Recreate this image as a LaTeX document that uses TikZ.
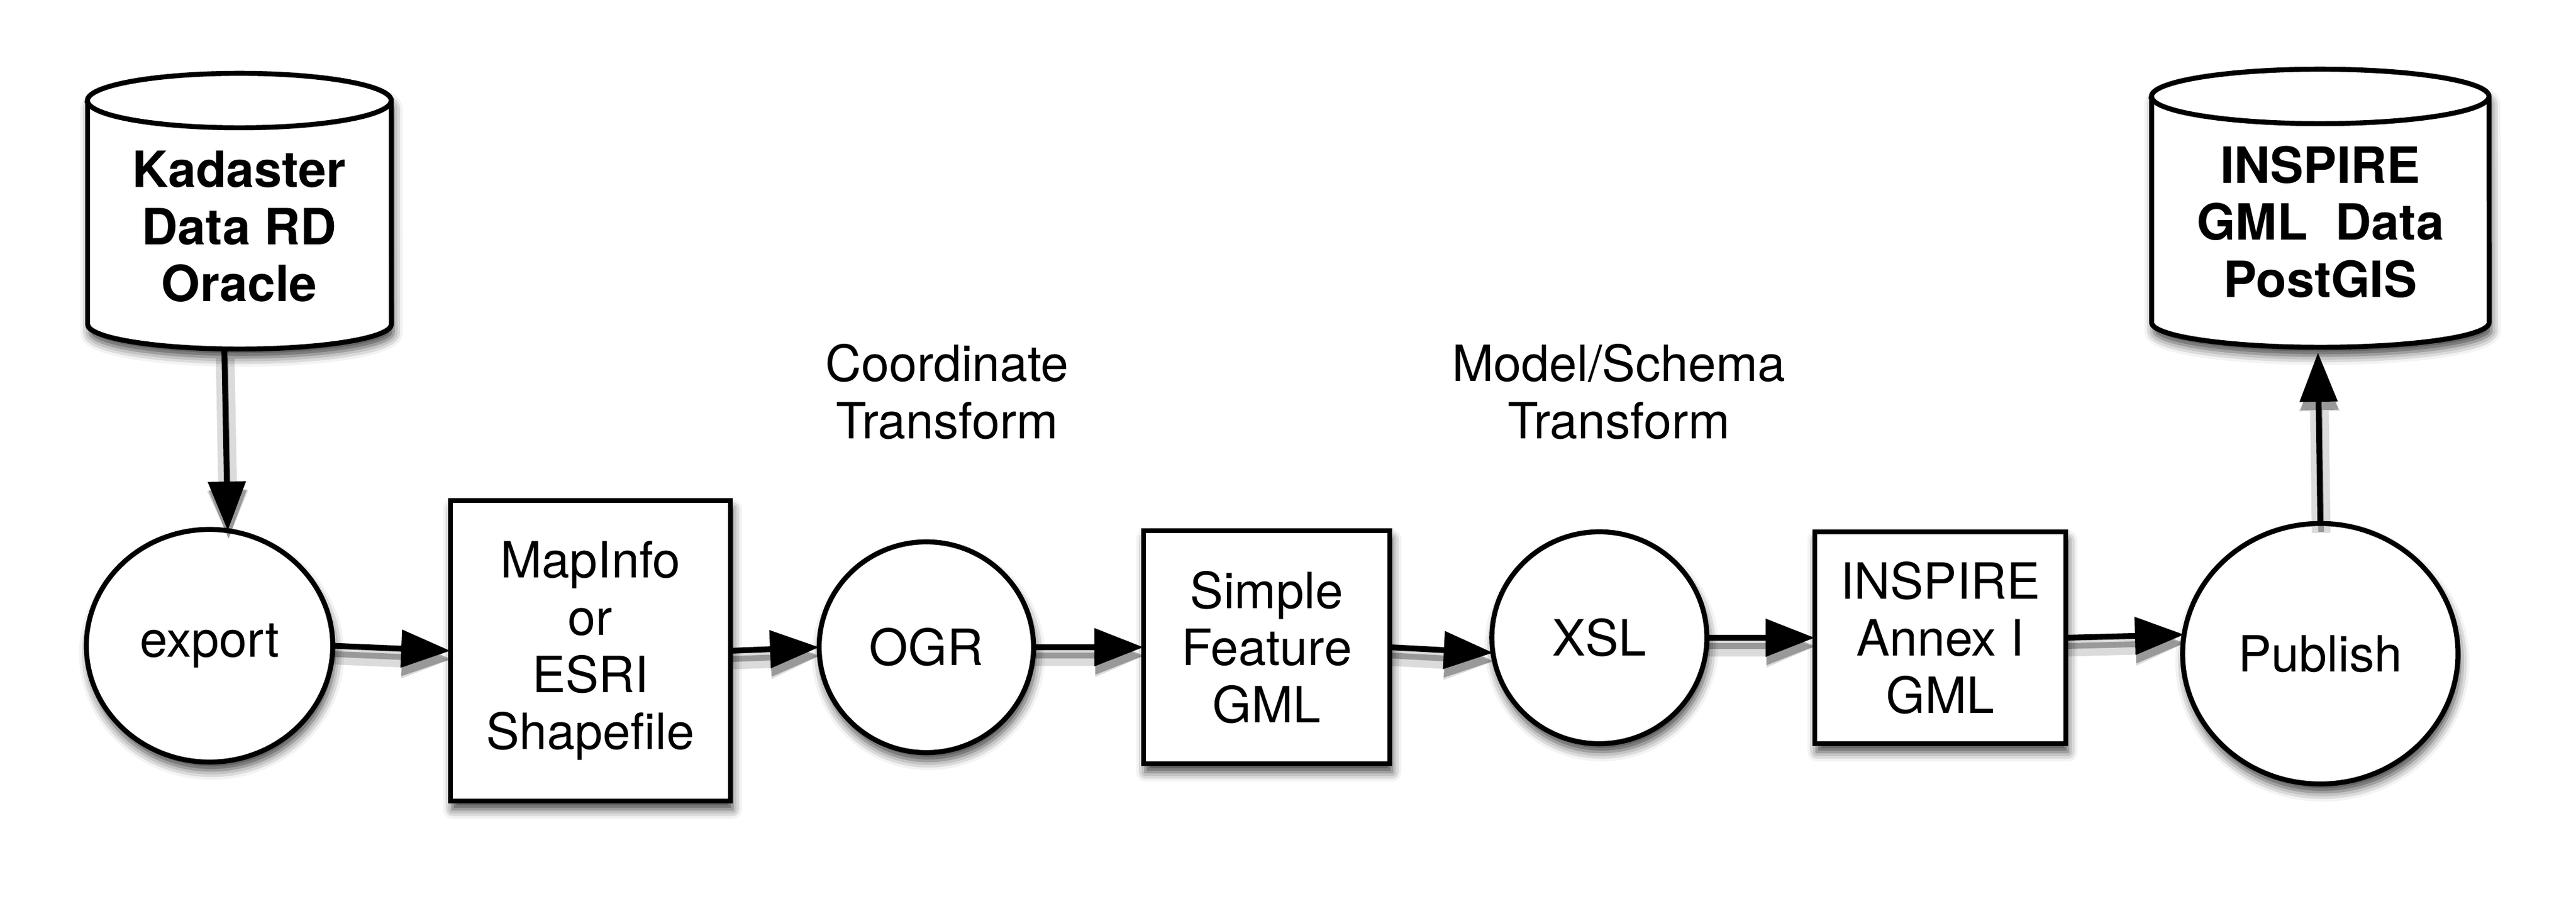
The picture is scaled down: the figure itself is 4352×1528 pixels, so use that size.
\documentclass[tikz,border=0pt]{standalone}
\usepackage{fontspec}
\setmainfont{TeX Gyre Heros}
\usetikzlibrary{shapes.geometric,arrows.meta,shadows.blur}
\begin{document}
\begin{tikzpicture}[x=0.01cm,y=0.01cm,
  every node/.style={font=\fontsize{24}{27.5}\selectfont, align=center, inner sep=0pt, outer sep=0pt},
  shp/.style={draw, line width=2.4pt, fill=white,
    blur shadow={shadow xshift=1pt, shadow yshift=-4pt, shadow blur radius=4.5pt, shadow opacity=75}},
  proc/.style={shp, ellipse},
  dat/.style={shp, rectangle},
  dbtext/.style={font=\bfseries\fontsize{24}{27.5}\selectfont},
  flow/.style={line width=2.8pt, -{Triangle[length=0.83cm,width=0.62cm,fill=black]}}
]
\useasboundingbox (0,0) rectangle (4352,1528);

% database cylinders
\path[shp] (148,1358) -- (148,980)
  arc[start angle=180, end angle=360, x radius=2.565cm, y radius=0.42cm]
  -- (661,1358)
  arc[start angle=0, end angle=180, x radius=2.565cm, y radius=0.46cm] -- cycle;
\draw[line width=2.4pt] (661,1358)
  arc[start angle=0, end angle=-180, x radius=2.565cm, y radius=0.46cm];
\node[dbtext] (kad) at (404,1145) {Kadaster\\Data RD\\Oracle};
\coordinate (kadb) at (379,938);

\path[shp] (3635,1365) -- (3635,983)
  arc[start angle=180, end angle=360, x radius=2.85cm, y radius=0.42cm]
  -- (4205,1365)
  arc[start angle=0, end angle=180, x radius=2.85cm, y radius=0.46cm] -- cycle;
\draw[line width=2.4pt] (4205,1365)
  arc[start angle=0, end angle=-180, x radius=2.85cm, y radius=0.46cm];
\node[dbtext] (ins) at (3920,1153) {INSPIRE\\GML\ \ Data\\PostGIS};
\coordinate (insb) at (3916,932);

% process and data nodes
\node[proc, minimum width=4.16cm, minimum height=3.93cm] (export) at (354,436.5) {export};
\node[dat, minimum width=4.73cm, minimum height=5.08cm] (mapinfo) at (997.5,428) {MapInfo\\or\\ESRI\\Shapefile};
\node[proc, minimum width=3.62cm, minimum height=3.56cm] (ogr) at (1565,434) {OGR};
\node[dat, minimum width=4.16cm, minimum height=3.94cm] (sf) at (2140,434) {Simple\\Feature\\GML};
\node[proc, minimum width=3.63cm, minimum height=3.58cm] (xsl) at (2702,450) {XSL};
\node[dat, minimum width=4.24cm, minimum height=3.58cm] (annex) at (3278,450) {INSPIRE\\Annex I\\GML};
\node[proc, minimum width=4.65cm, minimum height=4.40cm] (publish) at (3920,423) {Publish};

% labels
\node (ct) at (1600,866) {Coordinate\\Transform};
\node (mt) at (2735,866) {Model/Schema\\Transform};

% connector shadows (soft, two layers)
\begin{scope}[transparency group, opacity=.14, transform canvas={shift={(0.4pt,-4.5pt)}}]
\foreach \a/\b in {kadb/export.81, export.east/mapinfo.west, mapinfo.east/ogr.west,
                   ogr.east/sf.west, sf.east/xsl.188, xsl.east/annex.west,
                   annex.east/publish.172, publish.north/insb}
  \draw[flow, line width=9pt, draw=black] (\a) -- (\b);
\end{scope}
\begin{scope}[transparency group, opacity=.3, transform canvas={shift={(0.4pt,-4pt)}}]
\foreach \a/\b in {kadb/export.81, export.east/mapinfo.west, mapinfo.east/ogr.west,
                   ogr.east/sf.west, sf.east/xsl.188, xsl.east/annex.west,
                   annex.east/publish.172, publish.north/insb}
  \draw[flow, draw=black] (\a) -- (\b);
\end{scope}
% connectors
\foreach \a/\b in {kadb/export.81, export.east/mapinfo.west, mapinfo.east/ogr.west,
                   ogr.east/sf.west, sf.east/xsl.188, xsl.east/annex.west,
                   annex.east/publish.172, publish.north/insb}
  \draw[flow] (\a) -- (\b);
\end{tikzpicture}
\end{document}
